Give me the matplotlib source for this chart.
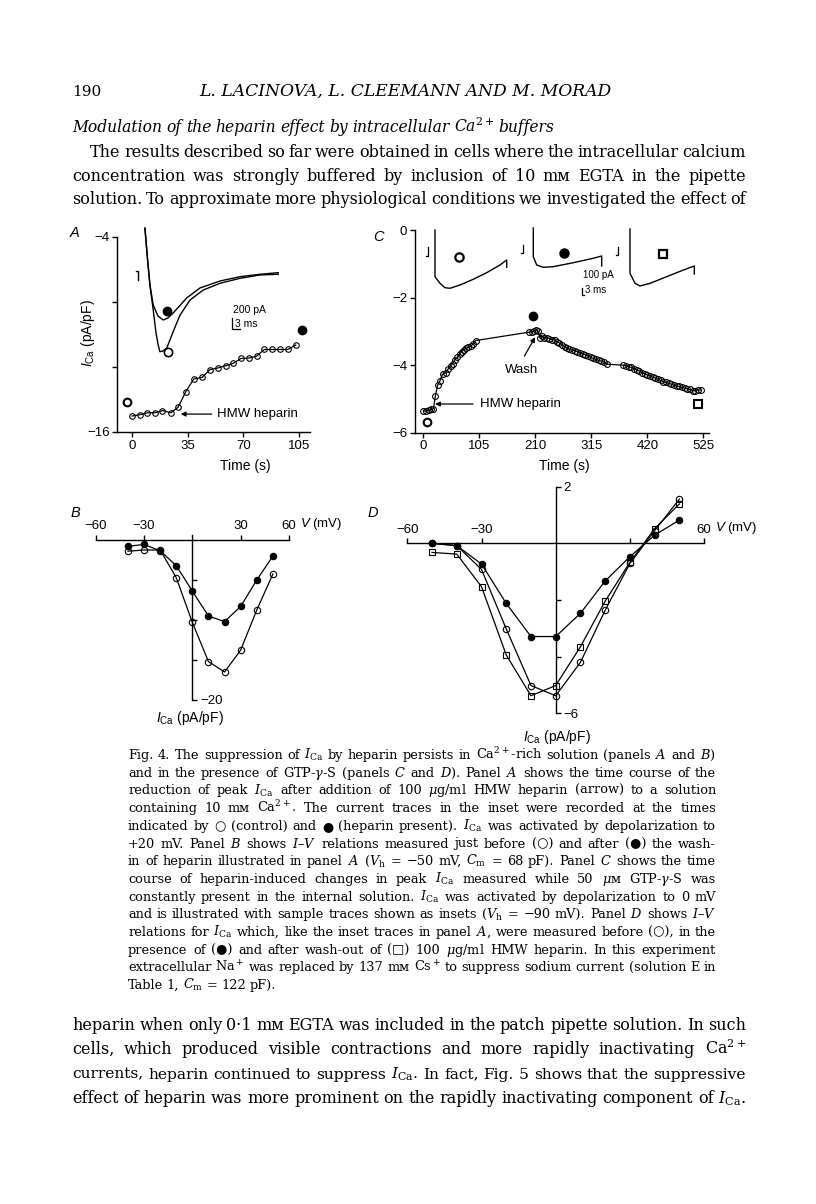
import matplotlib
matplotlib.use('Agg')
import matplotlib.pyplot as plt

plt.rcParams['font.family'] = ['Liberation Sans', 'DejaVu Sans']
plt.rcParams['mathtext.fontset'] = 'custom'
plt.rcParams['mathtext.rm'] = 'Liberation Sans'
plt.rcParams['mathtext.it'] = 'Liberation Sans:italic'
plt.rcParams['axes.linewidth'] = 1.0

# ---------------- data ----------------
# panel A: peak I_Ca time course (pA/pF vs s)
a_time = [0, 4.8, 9.5, 14.3, 19.1, 24.4, 29, 33.8, 38.8, 44.1, 48.9, 53.8,
          58.8, 63.6, 68.5, 73.3, 78.3, 83.2, 88.2, 93, 97.9, 102.9]
a_ica = [-15.02, -14.94, -14.82, -14.82, -14.68, -14.82, -14.47, -13.52, -12.74,
         -12.64, -12.17, -12.07, -11.93, -11.78, -11.48, -11.46, -11.34, -10.93,
         -10.93, -10.93, -10.93, -10.66]
a_ctrl = (-2.9, -14.13)
a_hep = (106.7, -9.75)

# panel A inset traces (ms, pA)
a_hep_ms = [5.4, 6.3, 7.2, 8.4, 10.1, 12.0, 13.7, 15.6, 20.5, 25.3, 32.5, 39.8, 47.0, 53.6]
a_hep_pa = [-60, -617, -1121, -1495, -1701, -1776, -1738, -1645, -1364, -1177,
            -1047, -966, -921, -891]
a_ctl_ms = [5.4, 6.3, 7.2, 8.4, 9.4, 10.2, 10.8, 11.9, 13.3, 15.6, 18.1, 21.7,
            26.5, 32.5, 39.8, 47.0, 53.6]
a_ctl_pa = [-60, -617, -1121, -1589, -2019, -2243, -2368, -2355, -2299, -1994,
            -1682, -1402, -1215, -1090, -996, -934, -921]

# panel C: peak I_Ca time course with GTP-gamma-S
c_time = [0, 5, 10, 15, 19, 22.5, 27, 31, 36, 42, 47, 51, 55, 59, 64, 68, 72, 76,
          80, 84, 89, 93, 98,
          199, 203, 207, 211, 215, 219, 222, 226, 231, 236, 241, 246, 250, 255, 260,
          265, 270, 274, 279, 284, 289, 294, 299, 304, 309, 314, 319, 324, 329, 334,
          339, 345,
          375, 380, 385, 390, 395, 400, 405, 410, 415, 420, 425, 430, 435, 440, 445,
          450, 455, 460, 465, 470, 475, 480, 485, 490, 495, 500, 505, 510, 515, 520]
c_ica = [-5.35, -5.36, -5.34, -5.31, -5.29, -4.92, -4.58, -4.47, -4.27, -4.22, -4.10,
         -4.01, -3.95, -3.84, -3.76, -3.68, -3.60, -3.54, -3.50, -3.47, -3.44, -3.37,
         -3.27,
         -3.02, -3.01, -2.99, -2.96, -2.99, -3.18, -3.13, -3.18, -3.19, -3.21, -3.24,
         -3.25, -3.30, -3.34, -3.39, -3.45, -3.50, -3.53, -3.55, -3.57, -3.60, -3.64,
         -3.67, -3.69, -3.72, -3.77, -3.80, -3.83, -3.86, -3.88, -3.91, -3.97,
         -4.00, -4.02, -4.05, -4.06, -4.10, -4.14, -4.17, -4.22, -4.25, -4.29, -4.32,
         -4.36, -4.38, -4.42, -4.45, -4.49, -4.51, -4.54, -4.56, -4.59, -4.62, -4.63,
         -4.66, -4.68, -4.70, -4.72, -4.75, -4.76, -4.73, -4.74]
c_ctrl = (6, -5.69)
c_hep = (205, -2.53)
c_wash = (516, -5.15)

# panel C inset traces (ms, pA)
c1_ms = [19.5, 19.5, 26, 32.5, 39, 52, 69.3, 86.7, 104, 112.7, 112.7]
c1_pa = [-72, -739, -834, -897, -905, -858, -776, -682, -572, -500, -605]
c2_ms = [23.8, 23.8, 28.2, 36.8, 49.8, 75.8, 101.8, 112.7, 112.7]
c2_pa = [-43, -453, -572, -605, -596, -539, -476, -443, -586]
c3_ms = [23.4, 23.4, 29.9, 36.4, 49.4, 71.1, 92.7, 107, 107]
c3_pa = [-57, -691, -834, -872, -834, -739, -644, -586, -701]

# panel B: I-V, 10 mM Ca (pA/pF vs mV)
b_v = [-40, -30, -20, -10, 0, 10, 20, 30, 40, 50]
b_before = [-1.4, -1.25, -1.25, -4.7, -10.3, -15.2, -16.5, -13.75, -8.75, -4.25]
b_after = [-0.8, -0.55, -1.35, -3.2, -6.4, -9.5, -10.2, -8.3, -5.0, -2.0]

# panel D: I-V with GTP-gamma-S
d_v = [-50, -40, -30, -20, -10, 0, 10, 20, 30, 40, 50]
d_before = [0.0, -0.08, -0.92, -3.02, -5.02, -5.38, -4.2, -2.36, -0.71, 0.45, 1.56]
d_hep = [0.0, -0.08, -0.73, -2.12, -3.29, -3.29, -2.47, -1.33, -0.47, 0.29, 0.82]
d_wash = [-0.32, -0.38, -1.53, -3.94, -5.38, -5.02, -3.65, -2.04, -0.67, 0.52, 1.39]

# ---------------- page text ----------------
header_left = '190'
header_mid = 'L. LACINOVA, L. CLEEMANN AND M. MORAD'
heading = r'Modulation of the heparin effect by intracellular Ca$^{2+}$ buffers'
para1 = ['The results described so far were obtained in cells where the intracellular calcium',
         'concentration was strongly buffered by inclusion of 10 mᴍ EGTA in the pipette',
         'solution. To approximate more physiological conditions we investigated the effect of']
caption = [r'Fig. 4. The suppression of $I_\mathrm{Ca}$ by heparin persists in Ca$^{2+}$-rich solution (panels $A$ and $B$)',
           r'and in the presence of GTP-$\gamma$-S (panels $C$ and $D$). Panel $A$ shows the time course of the',
           r'reduction of peak $I_\mathrm{Ca}$ after addition of 100 $\mu$g/ml HMW heparin (arrow) to a solution',
           r'containing 10 mᴍ Ca$^{2+}$. The current traces in the inset were recorded at the times',
           r'indicated by ○ (control) and ● (heparin present). $I_\mathrm{Ca}$ was activated by depolarization to',
           r'+20 mV. Panel $B$ shows $I$–$V$ relations measured just before (○) and after (●) the wash-',
           r'in of heparin illustrated in panel $A$ ($V_\mathrm{h}$ = −50 mV, $C_\mathrm{m}$ = 68 pF). Panel $C$ shows the time',
           r'course of heparin-induced changes in peak $I_\mathrm{Ca}$ measured while 50 $\mu$ᴍ GTP-$\gamma$-S was',
           r'constantly present in the internal solution. $I_\mathrm{Ca}$ was activated by depolarization to 0 mV',
           r'and is illustrated with sample traces shown as insets ($V_\mathrm{h}$ = −90 mV). Panel $D$ shows $I$–$V$',
           r'relations for $I_\mathrm{Ca}$ which, like the inset traces in panel $A$, were measured before (○), in the',
           r'presence of (●) and after wash-out of (□) 100 $\mu$g/ml HMW heparin. In this experiment',
           r'extracellular Na$^+$ was replaced by 137 mᴍ Cs$^+$ to suppress sodium current (solution E in',
           r'Table 1, $C_\mathrm{m}$ = 122 pF).']
para2 = ['heparin when only 0·1 mᴍ EGTA was included in the patch pipette solution. In such',
         r'cells, which produced visible contractions and more rapidly inactivating Ca$^{2+}$',
         r'currents, heparin continued to suppress $I_\mathrm{Ca}$. In fact, Fig. 5 shows that the suppressive',
         r'effect of heparin was more prominent on the rapidly inactivating component of $I_\mathrm{Ca}$.']

W, H = 816, 1204
fig = plt.figure(figsize=(W / 100, H / 100), dpi=100)
fig.patch.set_facecolor('white')
serif = ['DejaVu Serif', 'DejaVu Sans']


def fx(x):
    return x / W


def fy(y):
    return 1 - y / H


def add_ax(l, t, r, b):
    return fig.add_axes([l / W, 1 - b / H, (r - l) / W, (b - t) / H])


def text_line(s, x0, x1, y, size, justify=True, style='normal'):
    # one line of page text, words spread out to fill x0..x1
    rend = fig.canvas.get_renderer()
    words = s.split(' ')
    for _ in range(8):
        objs = [fig.text(0, fy(y), w, fontsize=size, family=serif, style=style,
                         math_fontfamily='dejavuserif', va='baseline') for w in words]
        ws = [o.get_window_extent(rend).width for o in objs]
        em = size * 100 / 72
        if justify and len(words) > 1:
            gap = (x1 - x0 - sum(ws)) / (len(words) - 1)
        else:
            gap = em * 0.28
        if gap >= em * 0.2:
            break
        for o in objs:
            o.remove()
        size *= 0.97
    x = x0
    for o, w in zip(objs, ws):
        o.set_x(fx(x))
        x += w + gap


def style_ax(ax):
    ax.tick_params(direction='out', length=3.5, width=1, labelsize=9.5, pad=2)


# ---- page text ----
fig.text(fx(72), fy(96), header_left, fontsize=11, family=serif, va='baseline')
fig.text(fx(405), fy(96), header_mid, fontsize=12.3, family=serif, style='italic',
         va='baseline', ha='center')
text_line(heading, 72, 555, 132, 11.2, justify=False, style='italic')
text_line(para1[0], 90, 746, 157, 11.5)
text_line(para1[1], 72, 746, 181, 11.5)
text_line(para1[2], 72, 746, 204, 11.5)
for k, s in enumerate(caption):
    text_line(s, 128, 716, 759 + k * 17.7, 9.3, justify=(k < len(caption) - 1))
for k, s in enumerate(para2):
    text_line(s, 72, 746, 1030 + k * 24.3, 11.5)

# ---- panel A ----
ax = add_ax(117.3, 236.7, 310, 432)
ax.plot(a_time, a_ica, '-o', color='k', lw=0.9, ms=4, mfc='none', mew=0.8)
ax.plot(*a_ctrl, 'o', ms=5.5, mfc='white', mec='k', mew=1.5)
ax.plot(*a_hep, 'o', ms=6, color='k')
ax.set_xlim(-9.3, 111.9)
ax.set_ylim(-16, -4)
ax.spines['top'].set_visible(False)
ax.spines['right'].set_visible(False)
ax.set_xticks([0, 35, 70, 105])
ax.set_yticks([-16, -12, -8, -4])
ax.set_yticklabels(['−16', '', '', '−4'])
style_ax(ax)
ax.annotate('', xy=(30.6, -14.9), xytext=(50.1, -14.9),
            arrowprops=dict(arrowstyle='-|>', color='k', lw=0.9, mutation_scale=7,
                            shrinkA=0, shrinkB=0))
ax.text(53.4, -14.9, 'HMW heparin', fontsize=9.5, va='center', ha='left')
ax.patch.set_alpha(0)
fig.text(fx(245), fy(466), 'Time (s)', fontsize=10, ha='center', va='center')
fig.text(fx(88), fy(333), r'$I_\mathrm{Ca}$ (pA/pF)', fontsize=10, ha='center',
         va='center', rotation=90)
fig.text(fx(75), fy(233), 'A', fontsize=10.5, style='italic', ha='center', va='center')

# inset A
ia = add_ax(130, 225, 290, 360)
ia.axis('off')
ia.set_xlim(0, 160 * 3 / 8.3)
ia.set_ylim(-135 * 200 / 10.7, 0)
ia.plot(a_hep_ms, a_hep_pa, color='k', lw=1.0)
ia.plot(a_ctl_ms, a_ctl_pa, color='k', lw=1.0)
ia.plot([2.2, 2.9, 2.9], [-860, -860, -1030], color='k', lw=1.0)
ia.plot(13.3, -1607, 'o', ms=6, color='k')
ia.plot(13.8, -2380, 'o', ms=6, mfc='white', mec='k', mew=1.2)
ia.plot([36.8, 36.8, 39.8], [-1744, -1944, -1944], color='k', lw=0.9)
ia.text(37.2, -1589, '200 pA', fontsize=7.5, ha='left', va='center')
ia.text(37.8, -1850, '3 ms', fontsize=7.5, ha='left', va='center')

# ---- panel C ----
ax = add_ax(415, 230.2, 709, 432.7)
ax.plot(c_time, c_ica, '-o', color='k', lw=0.9, ms=4.2, mfc='none', mew=0.8)
ax.plot(*c_ctrl, 'o', ms=5.5, mfc='white', mec='k', mew=1.5)
ax.plot(*c_hep, 'o', ms=6, color='k')
ax.plot(*c_wash, 's', ms=5.5, mfc='white', mec='k', mew=1.5)
ax.set_xlim(-15.6, 535.7)
ax.set_ylim(-6, 0)
ax.spines['top'].set_visible(False)
ax.spines['right'].set_visible(False)
ax.set_xticks([0, 105, 210, 315, 420, 525])
ax.set_yticks([-6, -4, -2, 0])
style_ax(ax)
ax.annotate('', xy=(209.6, -3.17), xytext=(189.6, -3.73),
            arrowprops=dict(arrowstyle='-|>', color='k', lw=0.9, mutation_scale=7,
                            shrinkA=0, shrinkB=0))
ax.text(185, -4.14, 'Wash', fontsize=9.5, ha='center', va='center')
ax.annotate('', xy=(21.9, -5.15), xytext=(93.2, -5.15),
            arrowprops=dict(arrowstyle='-|>', color='k', lw=0.9, mutation_scale=7,
                            shrinkA=0, shrinkB=0))
ax.text(106.3, -5.15, 'HMW heparin', fontsize=9.5, va='center', ha='left')
ax.patch.set_alpha(0)
fig.text(fx(564), fy(466), 'Time (s)', fontsize=10, ha='center', va='center')
fig.text(fx(378), fy(237), 'C', fontsize=10.5, style='italic', ha='center', va='center')

# inset traces C
for left, ms_, pa_ in [(420, c1_ms, c1_pa), (515, c2_ms, c2_pa), (612, c3_ms, c3_pa)]:
    ic = add_ax(left, 225, left + 95, 300)
    ic.axis('off')
    ic.set_xlim(0, 95 * 1.3)
    ic.set_ylim(-75 * 14.3, 0)
    ic.plot(ms_, pa_, color='k', lw=1.0)
    if left == 420:
        ic.plot([10.4, 10.4, 7.8], [-315, -443, -443], color='k', lw=0.9)
        ic.plot(51.1, -453, 'o', ms=6, mfc='white', mec='k', mew=1.6)
    elif left == 515:
        ic.plot([10.4, 10.4, 7.8], [-286, -400, -400], color='k', lw=0.9)
        ic.plot(63.7, -396, 'o', ms=6.5, color='k')
        ic.plot([86.7, 86.7, 89.7], [-901, -1001, -1001], color='k', lw=0.9)
        ic.text(88.4, -715, '100 pA', fontsize=7, ha='left', va='center')
        ic.text(91, -930, '3 ms', fontsize=7, ha='left', va='center')
    else:
        ic.plot([7.8, 7.8, 5.2], [-315, -429, -429], color='k', lw=0.9)
        ic.plot(65.9, -415, 's', ms=6, mfc='white', mec='k', mew=1.6)

# ---- panel B ----
ax = add_ax(95.7, 535, 289, 700)
ax.plot(b_v, b_after, '-o', color='k', lw=0.9, ms=4.6, mew=0.8)
ax.plot(b_v, b_before, '-o', color='k', lw=0.9, ms=4.6, mfc='none', mew=0.8)
ax.set_xlim(-60, 60)
ax.set_ylim(-20, 0.625)
ax.spines['right'].set_position(('data', 0))
ax.spines['top'].set_position(('data', 0))
ax.spines['left'].set_visible(False)
ax.spines['bottom'].set_visible(False)
ax.xaxis.set_ticks_position('top')
ax.yaxis.set_ticks_position('right')
ax.set_xticks([-60, -30, 30, 60])
ax.set_xticklabels(['−60', '−30', '30', '60'])
ax.set_yticks([-5, -10, -15, -20])
ax.set_yticklabels(['', '', '', '−20'])
style_ax(ax)
ax.annotate(r'$V$ (mV)', xy=(60, 0), xytext=(8, 5.5), textcoords='offset points',
            ha='left', va='bottom', fontsize=9.5)
ax.patch.set_alpha(0)
fig.text(fx(190), fy(718), r'$I_\mathrm{Ca}$ (pA/pF)', fontsize=10, ha='center', va='center')
fig.text(fx(75), fy(513), 'B', fontsize=10.5, style='italic', ha='center', va='center')

# ---- panel D ----
ax = add_ax(407.3, 486.7, 704.1, 713.3)
ax.plot(d_v, d_before, '-o', color='k', lw=0.9, ms=4.6, mfc='none', mew=0.8)
ax.plot(d_v, d_wash, '-s', color='k', lw=0.9, ms=4.4, mfc='none', mew=0.8)
ax.plot(d_v, d_hep, '-o', color='k', lw=0.9, ms=4.6, mew=0.8)
ax.set_xlim(-60, 60)
ax.set_ylim(-6, 2)
ax.spines['right'].set_position(('data', 0))
ax.spines['top'].set_position(('data', 0))
ax.spines['left'].set_visible(False)
ax.spines['bottom'].set_visible(False)
ax.xaxis.set_ticks_position('top')
ax.yaxis.set_ticks_position('right')
ax.set_xticks([-60, -30, 30, 60])
ax.set_xticklabels(['−60', '−30', '', '60'])
ax.set_yticks([2, -2, -4, -6])
ax.set_yticklabels(['2', '', '', '−6'])
style_ax(ax)
ax.annotate(r'$V$ (mV)', xy=(60, 0), xytext=(8, 5.5), textcoords='offset points',
            ha='left', va='bottom', fontsize=9.5)
ax.patch.set_alpha(0)
fig.text(fx(557), fy(737), r'$I_\mathrm{Ca}$ (pA/pF)', fontsize=10, ha='center', va='center')
fig.text(fx(373), fy(513), 'D', fontsize=10.5, style='italic', ha='center', va='center')

fig.savefig('out.png', dpi=100)
